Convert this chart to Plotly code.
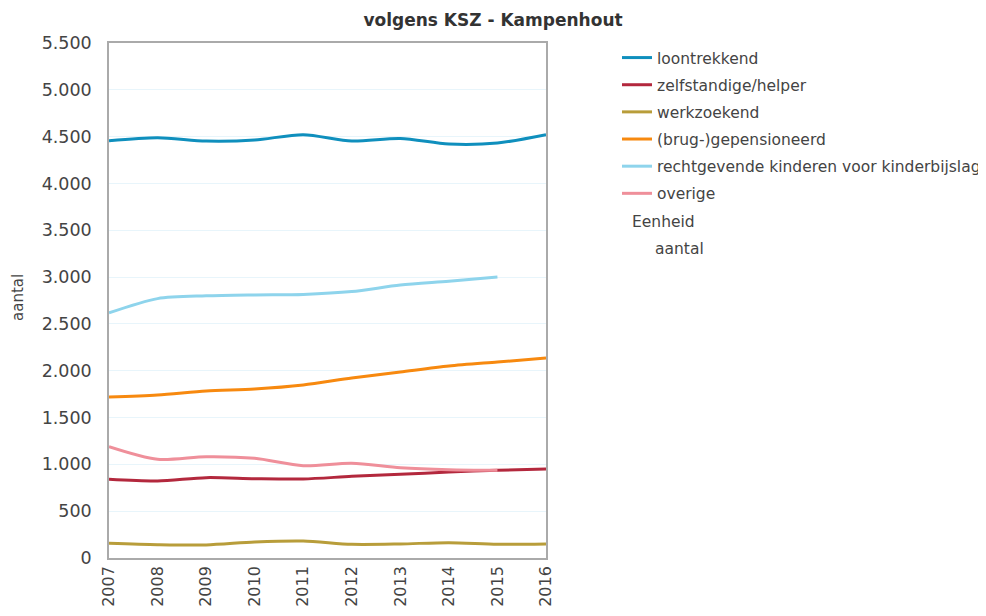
import plotly.graph_objects as go

years = [2007, 2008, 2009, 2010, 2011, 2012, 2013, 2014, 2015, 2016]
loontrekkend = [4457, 4489, 4453, 4464, 4521, 4453, 4481, 4421, 4432, 4521]
zelfstandige = [840, 822, 858, 847, 844, 872, 894, 918, 937, 950]
werkzoekend = [157, 142, 139, 171, 182, 146, 150, 164, 146, 150]
gepensioneerd = [1720, 1741, 1783, 1805, 1848, 1922, 1986, 2050, 2093, 2136]
kinderbijslag = [2617, 2770, 2800, 2810, 2815, 2845, 2915, 2955, 3000, None]
overige = [1189, 1054, 1082, 1065, 986, 1011, 964, 943, 937, None]

series = [
    ("loontrekkend", loontrekkend, "#0f8fbd"),
    ("zelfstandige/helper", zelfstandige, "#b3283d"),
    ("werkzoekend", werkzoekend, "#b89d3a"),
    ("(brug-)gepensioneerd", gepensioneerd, "#f7890f"),
    ("rechtgevende kinderen voor kinderbijslag", kinderbijslag, "#8ed4ec"),
    ("overige", overige, "#ef8f9a"),
]

# the page body has an 8px margin: figure drawn 8px right/down
W, H = 978, 608
OFF = 8
L, R, T, B = 109 - OFF, W - (546 - OFF), 43 - OFF, H - (558 - OFF)

font_family = "DejaVu Sans, Verdana, sans-serif"
fig = go.Figure()
for i, (name, vals, col) in enumerate(series):
    fig.add_trace(go.Scatter(
        x=years, y=vals, name=name, mode="lines",
        line=dict(color=col, width=3, shape="spline", smoothing=0.8),
        connectgaps=False, legendgroup=str(i),
    ))

fig.update_layout(
    width=W, height=H,
    margin=dict(l=L, r=R, t=T, b=B),
    paper_bgcolor="white", plot_bgcolor="white",
    separators=",.",
    font=dict(family=font_family, color="#444"),
    title=dict(text="<b>volgens KSZ - Kampenhout</b>",
               x=(493 - OFF) / W, xref="container",
               y=1 - (20 - OFF) / H, yref="container",
               xanchor="center", yanchor="middle",
               font=dict(size=17, color="#333")),
    showlegend=True,
    legend=dict(x=(617 - OFF) / W, xref="container",
                y=1 - (41 - OFF) / H, yref="container",
                xanchor="left", yanchor="top",
                font=dict(size=15.5, color="#444"),
                itemwidth=30, traceorder="grouped", tracegroupgap=4,
                bgcolor="rgba(0,0,0,0)"),
    xaxis=dict(range=[2007, 2016], tickmode="array", tickvals=years,
               ticktext=[str(y) for y in years], tickangle=-90,
               tickfont=dict(size=16, color="#444"),
               showgrid=False, showline=True, linecolor="#aaa", linewidth=1.5,
               mirror=True, ticks="", zeroline=False, automargin=False),
    yaxis=dict(range=[0, 5500], dtick=500, tickformat=",d",
               tickfont=dict(size=17.5, color="#444"),
               showgrid=True, gridcolor="#e8f5fb", gridwidth=1,
               showline=True, linecolor="#aaa", linewidth=1.5, mirror=True,
               ticks="", zeroline=False, automargin=False,
               ticklabelstandoff=12),
)

pw = W - L - R
ph = H - T - B

def px(xp):
    return (xp - OFF - L) / pw

def py(yp):
    return (H - B - (yp - OFF)) / ph

fig.add_annotation(text="aantal", xref="paper", yref="paper", showarrow=False,
                   x=px(18), y=py(298), xanchor="center", yanchor="middle",
                   textangle=-90, font=dict(size=15, color="#444"))
fig.add_annotation(text="Eenheid", xref="paper", yref="paper", showarrow=False,
                   x=px(630), y=py(222), xanchor="left", yanchor="middle",
                   font=dict(size=15.5, color="#444"))
fig.add_annotation(text="aantal", xref="paper", yref="paper", showarrow=False,
                   x=px(653), y=py(249), xanchor="left", yanchor="middle",
                   font=dict(size=15.5, color="#444"))

fig.write_html("out.html")
